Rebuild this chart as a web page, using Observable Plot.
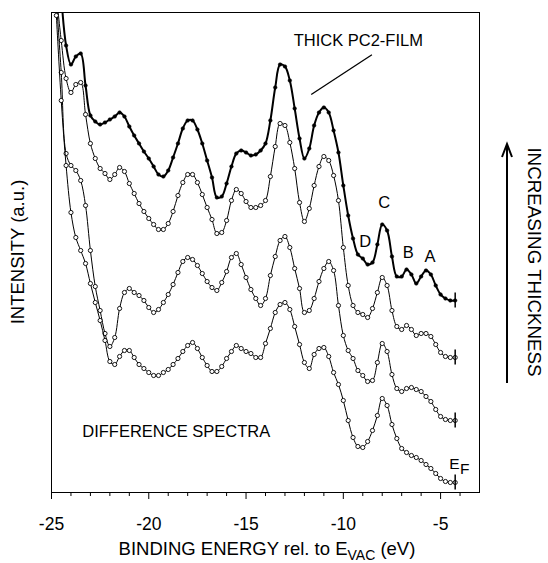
<!DOCTYPE html>
<html><head><meta charset="utf-8">
<script src="https://cdn.jsdelivr.net/npm/d3@7"></script>
<script src="https://cdn.jsdelivr.net/npm/@observablehq/plot@0.6"></script>
<style>html,body{margin:0;padding:0;background:#fff}</style>
</head><body><div id="chart"></div>
<script>
// Binding energy (eV) sampling points
const energy = [
 -24.75,-24.5,-24.25,-24,-23.75,-23.5,-23.25,-23,-22.75,-22.5,-22.25,-22,
 -21.75,-21.5,-21.25,-21,-20.75,-20.5,-20.25,-20,-19.75,-19.5,-19.25,-19,
 -18.75,-18.5,-18.25,-18,-17.75,-17.5,-17.25,-17,-16.75,-16.5,-16.25,-16,
 -15.75,-15.5,-15.25,-15,-14.75,-14.5,-14.25,-14,-13.75,-13.5,-13.25,-13,
 -12.75,-12.5,-12.25,-12,-11.75,-11.5,-11.25,-11,-10.75,-10.5,-10.25,-10,
 -9.75,-9.5,-9.25,-9,-8.75,-8.5,-8.25,-8,-7.75,-7.5,-7.25,-7,
 -6.75,-6.5,-6.25,-6,-5.75,-5.5,-5.25,-5,-4.75,-4.5,-4.25
];
// Intensities (a.u., offset spectra), top = thick PC2 film
const thickFilm = [
 null,49.7,44.7,42.8,43.6,43.9,40.7,37.7,37.1,36.8,37.0,37.3,
 37.6,38.0,37.6,36.6,35.7,34.9,34.1,33.4,32.6,31.8,31.6,32.2,
 33.5,34.9,36.4,37.2,37.2,36.3,34.9,33.2,31.5,29.5,29.6,30.9,
 32.6,33.9,34.2,34.0,33.7,33.8,34.2,34.9,37.2,40.5,42.8,42.6,
 41.2,38.4,35.4,33.4,34.4,36.7,38.0,38.5,38.0,36.2,34.0,30.7,
 27.7,25.4,23.8,23.4,22.8,23.0,24.8,26.8,26.2,23.6,21.6,21.6,
 22.3,21.8,20.9,21.6,22.2,21.8,20.7,19.8,19.4,19.2,19.2
];
const spectrum2 = [
 49.7,45.2,41.4,40.0,40.8,41.0,37.8,34.9,33.4,32.4,31.9,31.3,
 31.8,32.5,32.1,30.9,29.9,28.9,28.1,27.4,26.8,26.3,26.3,26.9,
 28.1,29.7,31.0,31.8,31.8,31.0,29.8,28.5,27.3,25.9,26.0,27.2,
 29.2,30.3,29.9,29.1,28.5,28.5,28.7,29.2,31.6,34.6,36.9,36.7,
 35.0,32.4,29.0,27.1,28.4,30.7,32.6,33.6,33.2,31.7,29.2,24.5,
 20.7,18.7,18.0,17.8,17.5,18.4,20.0,21.5,20.7,18.2,16.6,16.3,
 16.7,16.3,15.7,15.9,15.9,15.6,14.8,14.0,13.6,13.5,13.5
];
const spectrum3 = [
 49.2,42.0,33.9,32.7,32.2,31.2,28.7,24.2,20.6,18.2,15.9,14.6,
 15.5,18.4,20.0,20.4,20.0,19.7,19.2,18.5,18.0,18.3,19.0,19.8,
 20.8,22.0,23.1,23.5,23.3,22.7,21.9,21.1,20.5,20.2,21.0,22.1,
 23.5,23.9,22.8,21.5,20.3,19.4,18.7,19.4,21.7,23.6,25.2,25.6,
 24.5,22.4,20.4,18.0,18.2,19.4,21.1,22.4,23.1,22.2,18.7,15.7,
 14.2,13.4,12.2,11.7,11.1,11.2,13.0,14.9,14.1,11.8,10.4,10.1,
 10.4,10.5,10.3,10.1,9.6,9.1,8.3,7.6,7.3,7.2,7.2
];
const spectrum4 = [
 47.7,39.2,32.7,28.0,25.5,24.2,22.9,20.9,19.0,17.2,15.2,13.1,
 12.8,13.6,14.2,14.2,13.5,12.8,12.4,12.0,11.7,11.7,12.0,12.3,
 12.8,13.4,14.1,14.7,15.0,14.4,13.5,12.7,12.1,12.1,12.6,13.4,
 14.1,14.7,14.4,14.1,13.9,13.5,13.5,14.9,16.4,18.0,18.8,19.0,
 18.3,16.6,14.8,13.0,12.4,13.8,14.4,14.5,13.6,12.0,10.8,9.2,
 7.2,5.5,4.6,4.5,5.1,6.2,7.7,9.4,8.7,6.8,5.4,4.4,
 4.0,3.7,3.5,3.2,2.8,2.4,1.9,1.4,1.1,1.0,1.0
];
const majorTicks = [-25,-20,-15,-10,-5];
const minorTicks = [-24,-23,-22,-21,-19,-18,-17,-16,-14,-13,-12,-11,-9,-8,-7,-6,-4];
const peakLabels = ["C","D","B","A"];
const peakLabelEnergy = [-7.9,-8.87,-6.66,-5.55];
const peakLabelIntensity = [29.0,25.1,23.95,23.6];

const series = [
  {name: "thick", values: thickFilm, filled: true},
  {name: "s2", values: spectrum2, filled: false},
  {name: "s3", values: spectrum3, filled: false},
  {name: "s4", values: spectrum4, filled: false}
];
const rowsOf = s => energy.map((e, i) => ({energy: e, intensity: s.values[i]}));
const ends = series.map(s => ({energy: energy[energy.length - 1], intensity: s.values[s.values.length - 1]}));
const peaks = peakLabels.map((t, i) => ({text: t, energy: peakLabelEnergy[i], intensity: peakLabelIntensity[i]}));

const font = "'Liberation Sans', Arial, Helvetica, sans-serif";
const marks = [];
for (const s of series) {
  const rows = rowsOf(s);
  marks.push(Plot.line(rows, {x: "energy", y: "intensity", curve: "catmull-rom", stroke: "black",
    strokeWidth: s.filled ? 2 : 1, clip: true}));
  marks.push(Plot.dot(rows.filter(d => d.intensity != null), {x: "energy", y: "intensity",
    r: s.filled ? 1.8 : 2.1, fill: s.filled ? "black" : "white", stroke: "black",
    strokeWidth: s.filled ? 0.5 : 0.9, clip: true}));
}

const chart = Plot.plot({
  width: 548, height: 563,
  marginLeft: 51, marginRight: 69, marginTop: 12, marginBottom: 71,
  style: {fontFamily: font, fontSize: "16.5px", background: "white", color: "black"},
  x: {domain: [-25, -3]},
  y: {domain: [0, 48], axis: null},
  marks: [
    Plot.axisX(minorTicks, {tickSize: 4, tickFormat: () => "", label: null, stroke: "black"}),
    Plot.axisX(majorTicks, {tickSize: 7, tickPadding: 18, tickFormat: d => String(d), label: null,
      fontSize: 17.5, stroke: "black", fill: "black"}),
    ...marks,
    Plot.ruleX(ends, {x: "energy", y1: d => d.intensity - 0.75, y2: d => d.intensity + 0.75, stroke: "black", strokeWidth: 1.5}),
    Plot.text(peaks, {x: "energy", y: "intensity", text: "text", fontSize: 16.5, lineAnchor: "middle", fill: "black"}),
    Plot.text(["THICK PC2-FILM"], {x: -9.23, y: 45.2, text: d => d, fontSize: 16.5, lineAnchor: "middle", fill: "black"}),
    Plot.link([{x1: -8.53, y1: 43.77, x2: -11.65, y2: 39.8}], {x1: "x1", y1: "y1", x2: "x2", y2: "y2", stroke: "black", strokeWidth: 1.3}),
    Plot.text(["DIFFERENCE SPECTRA"], {x: -23.42, y: 6.1, text: d => d, fontSize: 16.5, textAnchor: "start", lineAnchor: "middle", fill: "black"}),
    Plot.text(["E"], {x: -4.55, y: 2.8, text: d => d, fontSize: 15.5, textAnchor: "start", lineAnchor: "middle", fill: "black"}),
    Plot.text(["F"], {x: -4.0, y: 2.3, text: d => d, fontSize: 15.5, textAnchor: "start", lineAnchor: "middle", fill: "black"}),
    Plot.frame({stroke: "black", strokeWidth: 1})
  ]
});

const svg = d3.select(chart);
// x-axis title with subscript
const xt = svg.append("text").attr("x", 267).attr("y", 555).attr("text-anchor", "middle")
  .attr("font-family", font).attr("font-size", 18.5).attr("fill", "black");
xt.append("tspan").text("BINDING ENERGY rel. to E");
xt.append("tspan").attr("dy", 4.5).attr("font-size", 14).text("VAC");
xt.append("tspan").attr("dy", -4.5).text(" (eV)");
// y-axis title
svg.append("text").attr("transform", "translate(23.5,252) rotate(-90)").attr("text-anchor", "middle")
  .attr("font-family", font).attr("font-size", 18.5).attr("fill", "black").text("INTENSITY (a.u.)");
// right-hand label and arrow
svg.append("text").attr("transform", "translate(528,262) rotate(90)").attr("text-anchor", "middle")
  .attr("font-family", font).attr("font-size", 18.8).attr("fill", "black").text("INCREASING THICKNESS");
svg.append("line").attr("x1", 507).attr("x2", 507).attr("y1", 383).attr("y2", 145)
  .attr("stroke", "black").attr("stroke-width", 2);
svg.append("polyline").attr("points", "502,157 507,144 512,157").attr("fill", "none")
  .attr("stroke", "black").attr("stroke-width", 2);

document.getElementById("chart").appendChild(chart);
</script>
</body></html>
